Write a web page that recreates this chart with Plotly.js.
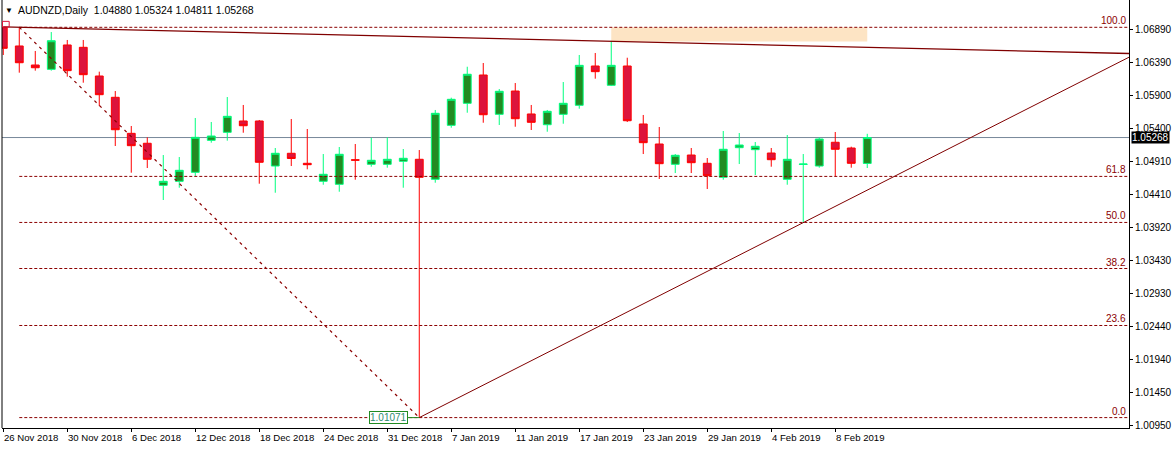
<!DOCTYPE html>
<html>
<head>
<meta charset="utf-8">
<script src="https://cdn.plot.ly/plotly-3.0.1.min.js"></script>
<style>html,body{margin:0;padding:0;background:#fff;}#chart{width:1175px;height:449px;}</style>
</head>
<body>
<div id="chart"></div>
<script>
// ---- data (bar index = trading day, 26 Nov 2018 .. 12 Feb 2019) ----
const barIndex = Array.from({length: 55}, (_, i) => i);
const open = [1.06915,1.06640,1.06355,1.06290,1.06655,1.06620,1.06190,1.05871,1.05331,1.05182,
1.04552,1.04612,1.04747,1.05226,1.05346,1.05516,1.05516,1.04841,1.05032,1.04882,
1.04612,1.04567,1.04935,1.04867,1.04867,1.04912,1.04942,1.04642,1.05451,1.05781,
1.06205,1.05616,1.05965,1.05621,1.05460,1.05616,1.05751,1.06340,1.06051,1.06340,
1.05471,1.05171,1.04867,1.05006,1.04882,1.04672,1.05116,1.05086,1.05036,1.04642,
1.04864,1.04841,1.05197,1.05111,1.04880];
const high = [1.06918,1.06920,1.06565,1.06849,1.06730,1.06730,1.06255,1.05965,1.05441,1.05271,
1.05006,1.04976,1.05561,1.05501,1.05875,1.05756,1.05531,1.05111,1.05546,1.05396,
1.05021,1.05126,1.05171,1.05265,1.05271,1.05096,1.05081,1.05681,1.05865,1.06329,
1.06385,1.05995,1.06085,1.05756,1.05681,1.06100,1.06505,1.06535,1.06715,1.06464,
1.05606,1.05426,1.05021,1.05111,1.04961,1.05366,1.05336,1.05201,1.05111,1.05306,
1.05021,1.05271,1.05351,1.05131,1.05324];
const low = [1.06505,1.06240,1.06270,1.06270,1.06180,1.06090,1.05741,1.05141,1.04741,1.04811,
1.04332,1.04516,1.04692,1.05191,1.05221,1.05340,1.04576,1.04441,1.04841,1.04792,
1.04561,1.04456,1.04636,1.04831,1.04816,1.04516,1.01071,1.04591,1.05415,1.05640,
1.05490,1.05456,1.05430,1.05381,1.05355,1.05475,1.05700,1.06150,1.06040,1.05501,
1.05021,1.04647,1.04736,1.04736,1.04497,1.04636,1.04871,1.04706,1.04831,1.04561,
1.03993,1.04816,1.04687,1.04816,1.04811];
const close = [1.06605,1.06389,1.06314,1.06719,1.06270,1.06210,1.05910,1.05385,1.05146,1.04942,
1.04612,1.04777,1.05271,1.05291,1.05586,1.05445,1.04897,1.05032,1.04954,1.04861,
1.04717,1.05017,1.04929,1.04927,1.04942,1.04957,1.04672,1.05631,1.05841,1.06216,
1.05610,1.05961,1.05550,1.05496,1.05661,1.05781,1.06350,1.06255,1.06350,1.05520,
1.05191,1.04876,1.05002,1.04891,1.04696,1.05092,1.05156,1.05137,1.04936,1.04942,
1.04871,1.05246,1.05092,1.04882,1.05268];

const xTickIdx = [0,4,8,12,16,20,24,28,32,36,40,44,48,52];
const xTickText = ["26 Nov 2018","30 Nov 2018","6 Dec 2018","12 Dec 2018","18 Dec 2018","24 Dec 2018","31 Dec 2018","7 Jan 2019","11 Jan 2019","17 Jan 2019","23 Jan 2019","29 Jan 2019","4 Feb 2019","8 Feb 2019"];
const yTickVals = [1.0689,1.0639,1.0590,1.0540,1.0491,1.0441,1.0392,1.0343,1.0293,1.0244,1.0194,1.0145,1.0095];

const title = "AUDNZD,Daily\u00a0\u00a01.04880 1.05324 1.04811 1.05268";
const lastPrice = 1.05268;

// Fibonacci retracement anchors (bar index, price)
const fibHigh = {i: 1, p: 1.06920};
const fibLow = {i: 26, p: 1.01071};
const fibLevels = [0, 23.6, 38.2, 50.0, 61.8, 100.0];

// trend lines (anchor points)
const topTrend = {i0: 0, p0: 1.06925, i1: 70.36, p1: 1.06527};
const riseTrend = {i0: 26, p0: 1.01071, i1: 50, p1: 1.03993};

// resistance zone
const zone = {i0: 38, i1: 54, p0: 1.06920, p1: 1.06707};

// ---- layout ----
const xMin = -0.08, xMax = 70.36;
const yMin = 1.009152, yMax = 1.073291;
const FONT = "Liberation Sans, Arial, sans-serif";
const DARKRED = "#8B0000";

const shapes = [];
shapes.push({type:'rect', xref:'x', yref:'y', x0:zone.i0, x1:zone.i1, y0:zone.p1, y1:zone.p0,
  fillcolor:'#FDE4C4', line:{width:0}, layer:'below'});
shapes.push({type:'line', xref:'x', yref:'y', x0:xMin, x1:xMax, y0:lastPrice, y1:lastPrice,
  line:{color:'#778899', width:1}, layer:'below'});
const range = fibHigh.p - fibLow.p;
fibLevels.forEach(l => {
  const p = fibLow.p + range * l / 100;
  shapes.push({type:'line', xref:'x', yref:'y', x0:fibHigh.i, x1:xMax, y0:p, y1:p,
    line:{color:DARKRED, width:1, dash:'3px,2px'}, layer:'above'});
});
shapes.push({type:'line', xref:'x', yref:'y', x0:fibHigh.i, x1:fibLow.i, y0:fibHigh.p, y1:fibLow.p,
  line:{color:DARKRED, width:1.2, dash:'3px,4px'}, layer:'above'});
shapes.push({type:'line', xref:'x', yref:'y', x0:topTrend.i0, x1:topTrend.i1, y0:topTrend.p0, y1:topTrend.p1,
  line:{color:'#800000', width:1.3}, layer:'above'});
const slope = (riseTrend.p1 - riseTrend.p0) / (riseTrend.i1 - riseTrend.i0);
shapes.push({type:'line', xref:'x', yref:'y', x0:riseTrend.i0, x1:xMax, y0:riseTrend.p0,
  y1:riseTrend.p0 + slope * (xMax - riseTrend.i0), line:{color:'#800000', width:1}, layer:'above'});
// left border
shapes.push({type:'line', xref:'paper', yref:'paper', x0:0, x1:0, y0:0, y1:1, line:{color:'#000', width:1}});
// small marker box at top-left anchor
shapes.push({type:'rect', xref:'x', yref:'y', x0:-0.05, x1:0.37, y0:topTrend.p0, y1:topTrend.p0 + 0.00084,
  line:{color:'#DC143C', width:1}, fillcolor:'rgba(0,0,0,0)', layer:'above'});

const annotations = [];
annotations.push({xref:'paper', yref:'paper', x:0, y:1, xanchor:'left', yanchor:'top', xshift:1, yshift:-4,
  text:'\u25BC', showarrow:false, font:{family:FONT, size:8, color:'#000'}});
annotations.push({xref:'paper', yref:'paper', x:0, y:1, xanchor:'left', yanchor:'top', xshift:14, yshift:-2,
  text:title, showarrow:false, font:{family:FONT, size:10.5, color:'#000'}});
xTickIdx.forEach((ix, k) => {
  annotations.push({xref:'x', yref:'paper', x:ix, y:0, xanchor:'left', yanchor:'top', xshift:-1, yshift:-2,
    text:xTickText[k], showarrow:false, font:{family:FONT, size:9.6, color:'#000'}});
});
fibLevels.forEach(l => {
  const p = fibLow.p + range * l / 100;
  annotations.push({xref:'paper', yref:'y', x:1, y:p, xanchor:'right', yanchor:'bottom', xshift:-1, yshift:-1,
    text:l.toFixed(1), showarrow:false, font:{family:FONT, size:10, color:DARKRED}});
});
annotations.push({xref:'paper', yref:'y', x:1, y:lastPrice, xanchor:'left', yanchor:'middle', xshift:2,
  text:lastPrice.toFixed(5), showarrow:false, bgcolor:'#000', borderpad:0,
  font:{family:FONT, size:10, color:'#fff'}});
annotations.push({xref:'x', yref:'y', x:fibLow.i, y:fibLow.p, ax:-31, ay:0, showarrow:true, arrowhead:0,
  arrowcolor:'#228B22', arrowwidth:1, text:fibLow.p.toFixed(5), bgcolor:'#fff', bordercolor:'#228B22',
  borderwidth:1, borderpad:0, font:{family:FONT, size:10, color:'#2E8B6F'}});

const trace = {
  type:'candlestick', x:barIndex, open:open, high:high, low:low, close:close,
  increasing:{line:{color:'#00FF7F', width:1}, fillcolor:'#228B22'},
  decreasing:{line:{color:'#FF0000', width:1}, fillcolor:'#DC143C'},
  whiskerwidth:0, hoverinfo:'skip', showlegend:false
};

const layout = {
  width:1175, height:449,
  margin:{l:2, r:46, t:0, b:21, pad:0},
  paper_bgcolor:'#fff', plot_bgcolor:'#fff',
  showlegend:false,
  xaxis:{range:[xMin, xMax], showgrid:false, zeroline:false, showline:true, linecolor:'#000', linewidth:1,
    ticks:'outside', ticklen:3, tickcolor:'#000', tickvals:xTickIdx, showticklabels:false,
    rangeslider:{visible:false}, fixedrange:true},
  yaxis:{range:[yMin, yMax], side:'right', showgrid:false, zeroline:false, showline:true, linecolor:'#000',
    linewidth:1, ticks:'outside', ticklen:3, tickcolor:'#000', tickvals:yTickVals,
    ticktext:yTickVals.map(v => v.toFixed(5)), tickfont:{family:FONT, size:10, color:'#000'}, fixedrange:true},
  shapes:shapes,
  annotations:annotations
};

Plotly.newPlot('chart', [trace], layout, {displayModeBar:false, staticPlot:true});
</script>
</body>
</html>
